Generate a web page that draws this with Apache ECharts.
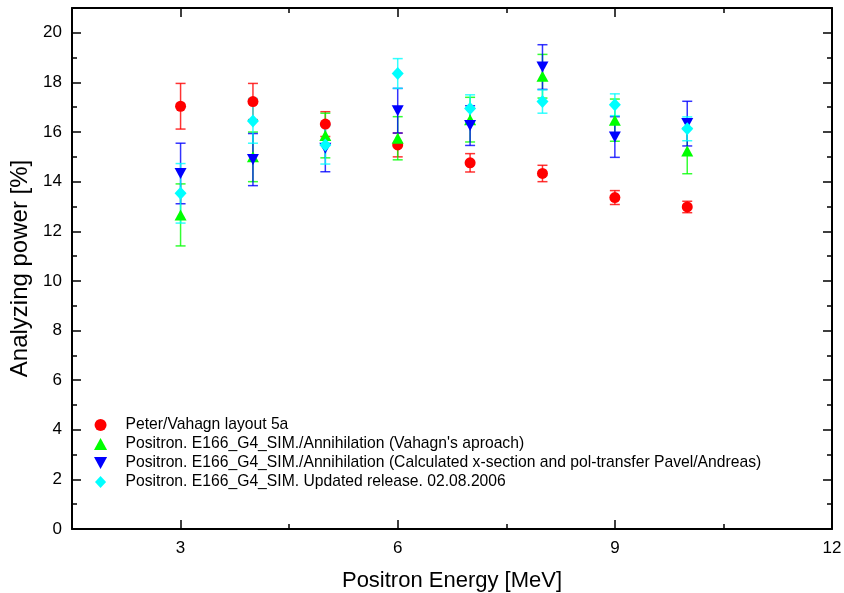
<!DOCTYPE html>
<html>
<head>
<meta charset="utf-8">
<script src="https://cdn.jsdelivr.net/npm/echarts@6/dist/echarts.min.js"></script>
<style>
  html, body { margin: 0; padding: 0; background: #fff; }
  #container { width: 844px; height: 593px; }
</style>
</head>
<body>
<div id="container"></div>
<script>
// energies in MeV
var energy = [3, 4, 5, 6, 7, 8, 9, 10];

// analyzing power [%] and errors, one pair per data set
var peter = [17.04, 17.23, 16.32, 15.48, 14.76, 14.33, 13.36, 12.98];
var peterErr = [0.92, 0.73, 0.50, 0.48, 0.37, 0.33, 0.28, 0.23];

var vahagn = [12.66, 15.00, 15.86, 15.75, 16.50, 18.25, 16.48, 15.24];
var vahagnErr = [1.25, 1.00, 0.90, 0.87, 0.90, 0.88, 0.85, 0.92];

var pavel = [14.33, 14.89, 15.35, 16.86, 16.26, 18.62, 15.80, 16.34];
var pavelErr = [1.22, 1.05, 0.95, 0.90, 0.80, 0.90, 0.82, 0.90];

var release = [13.53, 16.45, 15.48, 18.36, 16.95, 17.23, 17.10, 16.13];
var releaseErr = [1.20, 0.90, 0.77, 0.60, 0.55, 0.47, 0.44, 0.48];

var names = [
  'Peter/Vahagn layout 5a',
  "Positron. E166_G4_SIM./Annihilation (Vahagn's aproach)",
  'Positron. E166_G4_SIM./Annihilation (Calculated x-section and pol-transfer Pavel/Andreas)',
  'Positron. E166_G4_SIM. Updated release. 02.08.2006'
];

// tick positions
var xMajor = [3, 6, 9, 12];
var xMinor = [4.5, 7.5, 10.5];
var yMajor = [0, 2, 4, 6, 8, 10, 12, 14, 16, 18, 20];
var yMinor = [1, 3, 5, 7, 9, 11, 13, 15, 17, 19];

var FONT = 'Liberation Sans, Arial, sans-serif';
var TRI_UP = 'path://M6,0L12,11L0,11Z';
var TRI_DOWN = 'path://M0,0L12,0L6,11Z';
var DIAMOND = 'path://M6,0L12,6.5L6,13L0,6.5Z';

var dom = document.getElementById('container');
var myChart = echarts.init(dom);

function pts(vals) {
  return energy.map(function (x, i) { return [x, vals[i]]; });
}
function bars(vals, errs) {
  return energy.map(function (x, i) { return [x, vals[i] - errs[i], vals[i] + errs[i]]; });
}

function errorSeries(vals, errs, color) {
  return {
    type: 'custom',
    name: 'err',
    silent: true,
    data: bars(vals, errs),
    renderItem: function (params, api) {
      var lo = api.coord([api.value(0), api.value(1)]);
      var hi = api.coord([api.value(0), api.value(2)]);
      var w = 5;
      var st = { stroke: color, lineWidth: 1.5, opacity: 0.8 };
      return {
        type: 'group',
        children: [
          { type: 'line', shape: { x1: lo[0], y1: lo[1], x2: hi[0], y2: hi[1] }, style: st },
          { type: 'line', shape: { x1: lo[0] - w, y1: lo[1], x2: lo[0] + w, y2: lo[1] }, style: st },
          { type: 'line', shape: { x1: hi[0] - w, y1: hi[1], x2: hi[0] + w, y2: hi[1] }, style: st }
        ]
      };
    }
  };
}

function pointSeries(name, vals, color, symbol, size) {
  return {
    type: 'scatter',
    name: name,
    data: pts(vals),
    symbol: symbol,
    symbolSize: size,
    itemStyle: { color: color, opacity: 1 }
  };
}

function xAx(pos, ticks, len, showLine, labels) {
  return {
    type: 'value', position: pos, min: 1.5, max: 12,
    axisLine: { show: showLine, onZero: false, lineStyle: { color: '#000', width: 2 } },
    axisTick: { show: true, inside: true, length: len, customValues: ticks, lineStyle: { color: '#000', width: 1.5 } },
    axisLabel: labels ? { customValues: labels, color: '#000', fontSize: 17, fontFamily: FONT, margin: 11 } : { show: false },
    splitLine: { show: false }
  };
}
function yAx(pos, ticks, len, showLine, labels) {
  return {
    type: 'value', position: pos, min: 0, max: 21,
    axisLine: { show: showLine, onZero: false, lineStyle: { color: '#000', width: 2 } },
    axisTick: { show: true, inside: true, length: len, customValues: ticks, lineStyle: { color: '#000', width: 1.5 } },
    axisLabel: labels ? { customValues: labels, color: '#000', fontSize: 17, fontFamily: FONT, margin: 10 } : { show: false },
    splitLine: { show: false }
  };
}

var xMain = xAx('bottom', xMajor, 9, true, xMajor);
xMain.name = 'Positron Energy [MeV]';
xMain.nameLocation = 'middle';
xMain.nameGap = 41;
xMain.nameTextStyle = { color: '#000', fontSize: 22, fontFamily: FONT };

var yMain = yAx('left', yMajor, 9, true, yMajor);
yMain.name = 'Analyzing power [%]';
yMain.nameLocation = 'middle';
yMain.nameGap = 39;
yMain.nameTextStyle = { color: '#000', fontSize: 24, fontFamily: FONT };

var option = {
  animation: false,
  backgroundColor: '#fff',
  grid: { left: 72, right: 12, top: 8, bottom: 64, outerBoundsMode: 'none', containLabel: false },
  xAxis: [
    xMain,
    xAx('bottom', xMinor, 5, false),
    xAx('top', xMajor, 9, true),
    xAx('top', xMinor, 5, false)
  ],
  yAxis: [
    yMain,
    yAx('left', yMinor, 5, false),
    yAx('right', yMajor, 9, true),
    yAx('right', yMinor, 5, false)
  ],
  legend: {
    data: names,
    orient: 'vertical',
    left: 89,
    top: 412,
    itemWidth: 40,
    itemHeight: 12,
    itemGap: 3,
    textStyle: { color: '#000', fontSize: 15.7, fontFamily: FONT }
  },
  series: [
    errorSeries(peter, peterErr, '#ff0000'),
    pointSeries(names[0], peter, '#ff0000', 'circle', 11),
    errorSeries(vahagn, vahagnErr, '#00ff00'),
    pointSeries(names[1], vahagn, '#00ff00', TRI_UP, [12, 11]),
    errorSeries(pavel, pavelErr, '#0000ff'),
    pointSeries(names[2], pavel, '#0000ff', TRI_DOWN, [12, 11]),
    errorSeries(release, releaseErr, '#00ffff'),
    pointSeries(names[3], release, '#00ffff', DIAMOND, [12, 13])
  ]
};

myChart.setOption(option);
</script>
</body>
</html>
